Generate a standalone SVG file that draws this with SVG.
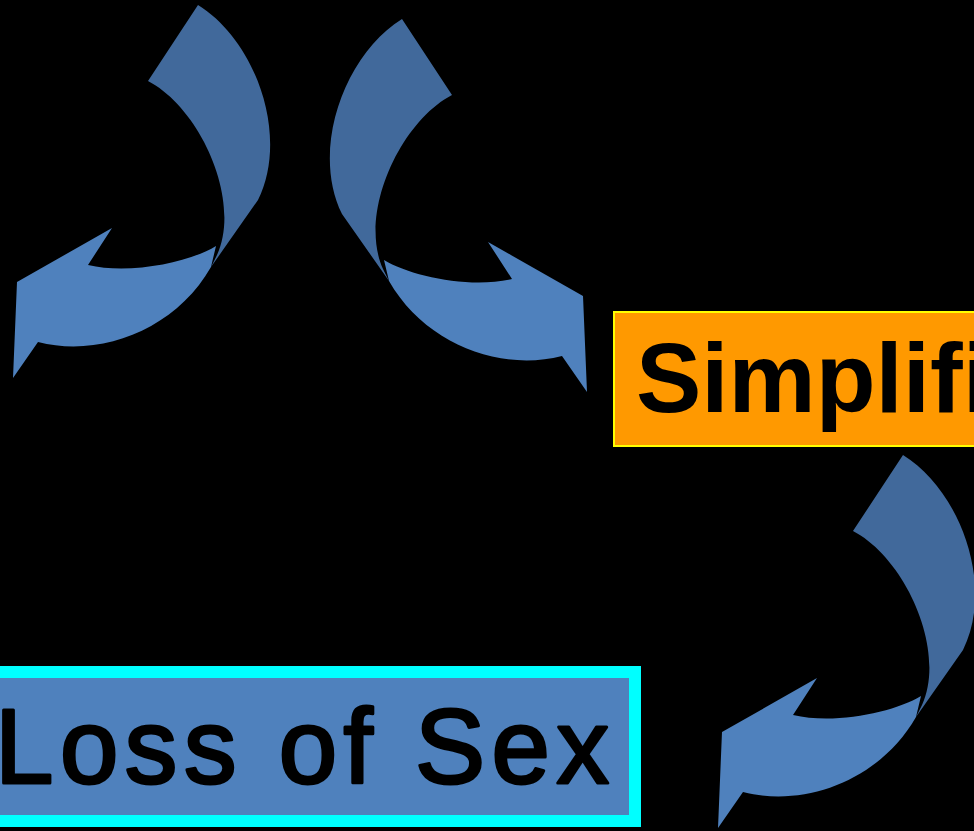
<svg xmlns="http://www.w3.org/2000/svg" xmlns:xlink="http://www.w3.org/1999/xlink" width="974" height="831" viewBox="0 0 974 831">
<style>
.back{fill:#41699B}
.front{fill:#4F81BD}
.lbl{font-family:"Liberation Sans",Arial,sans-serif;font-weight:bold;fill:#000}
.lbl2{font-family:"Liberation Sans",Arial,sans-serif;fill:#000;stroke:#000;stroke-width:3;stroke-linejoin:round}
</style>
<defs>
<g id="curvedArrow">
<path class="back" d="M198,5 C255,40 290,135 258,200 L211,267 L217,255 C242,200 200,108 148,81 Z"/>
<path class="front" d="M216,246 C190,262 130,275 88,265 L112,228 L17,282 L13,378 L38,342 C100,358 175,330 211,267 Z"/>
</g>
</defs>
<rect x="0" y="0" width="974" height="831" fill="#000"/>
<g id="connectors">
<use xlink:href="#curvedArrow"/>
<use xlink:href="#curvedArrow" transform="translate(600,14) scale(-1,1)"/>
<use xlink:href="#curvedArrow" transform="translate(705,450)"/>
</g>
<g id="simplification">
<rect x="614" y="312" width="420" height="134" fill="#FF9900" stroke="#FFFF00" stroke-width="2"/>
<text class="lbl" x="636" y="412" font-size="98">Simplifi</text>
</g>
<g id="loss-of-sex">
<rect x="-50" y="672" width="685" height="149" fill="#4F81BD" stroke="#00FFFF" stroke-width="12"/>
<text class="lbl2" x="-5" y="783" font-size="105" textLength="614" lengthAdjust="spacing">Loss of Sex</text>
</g>
</svg>
